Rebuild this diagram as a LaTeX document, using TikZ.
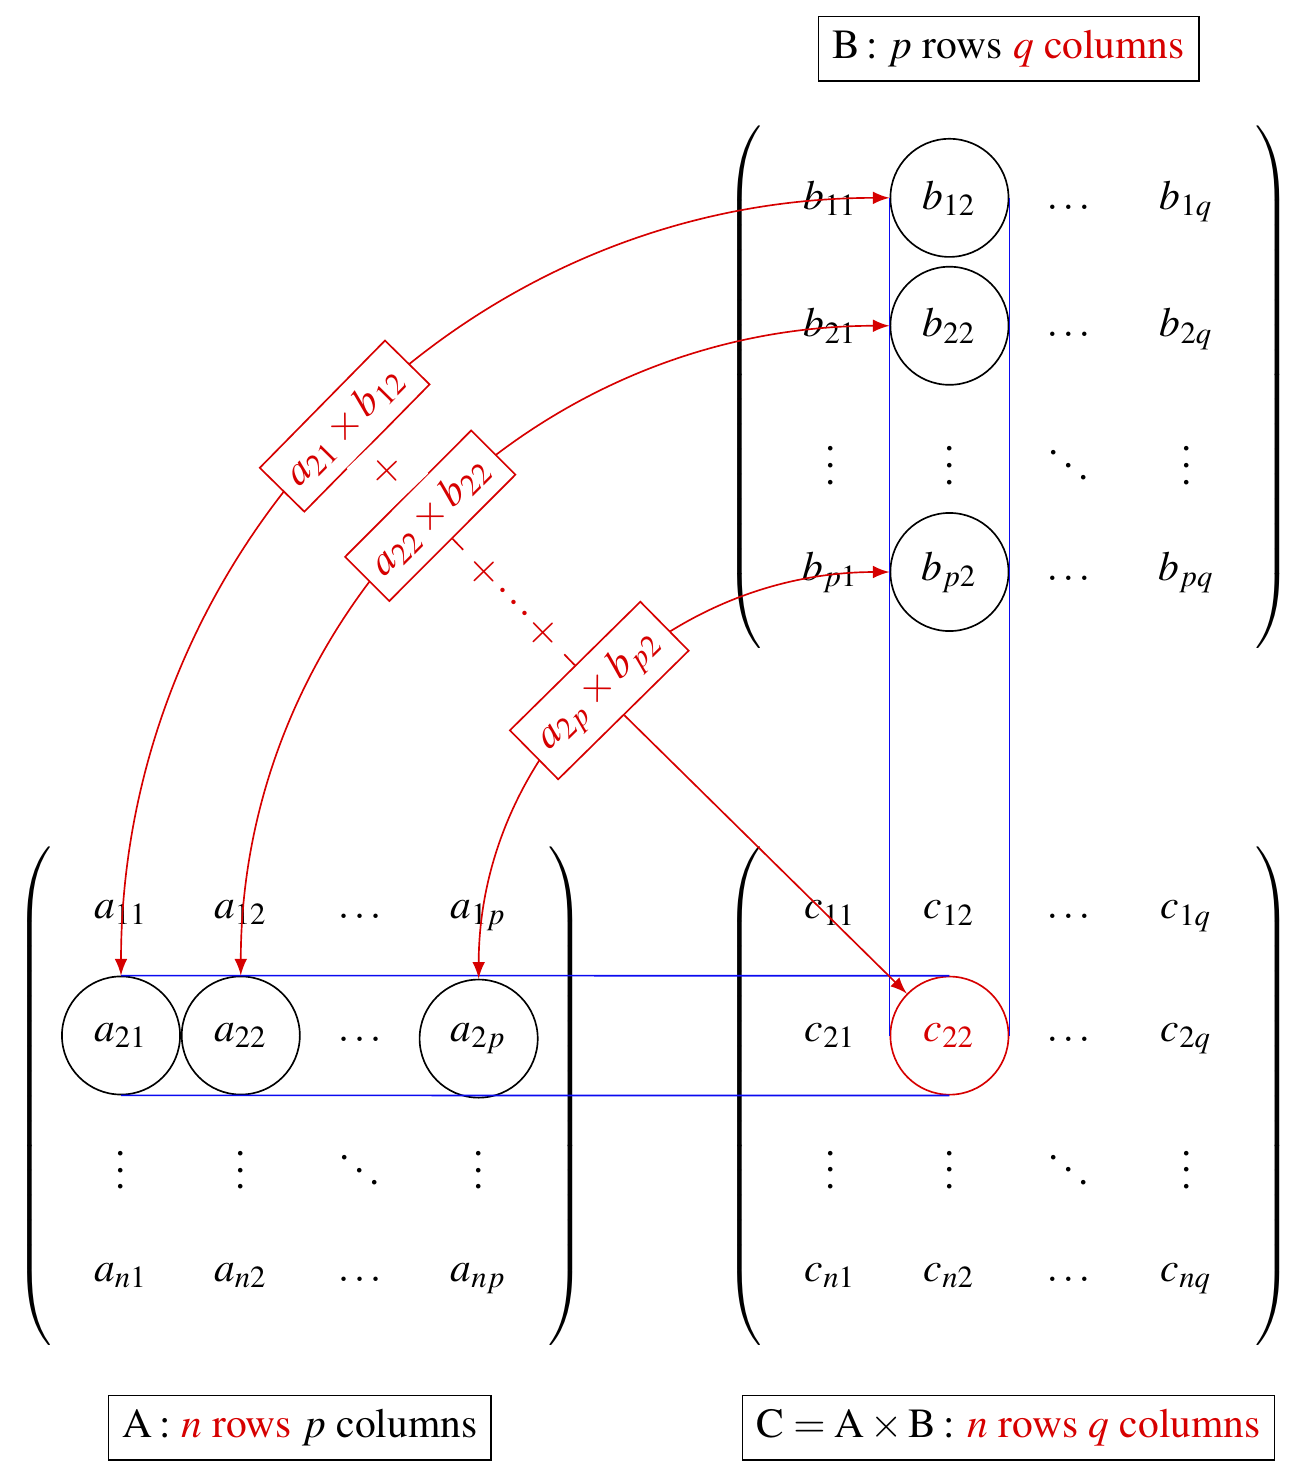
\documentclass[tikz,border=0pt]{standalone}
\usepackage[T1]{fontenc}
\usepackage{mathptmx}
\usetikzlibrary{matrix,calc,positioning}
\definecolor{myred}{RGB}{214,0,0}
\definecolor{myblue}{RGB}{10,10,240}
\begin{document}
\begin{tikzpicture}[>=latex,
  node style sp/.style={draw,circle,minimum size=1cm},
  node style ge/.style={circle,minimum size=1cm},
  arrow style mul/.style={draw,sloped,midway,fill=white},
  arrow style plus/.style={midway,sloped,fill=white},
  label box/.style={draw},
  every left delimiter/.style={xshift=0.85mm},
  every right delimiter/.style={xshift=-0.85mm}]
% matrix A
\matrix (A) [matrix of math nodes, nodes={node style ge},
             left delimiter=(, right delimiter=)] at (0,0)
{
  a_{11} & a_{12} & \ldots & a_{1p} \\
  |[node style sp]| {a_{21}} & |[node style sp]| {a_{22}} & \ldots & |[node style sp]| {a_{2p}} \\
  \vdots & \vdots & \ddots & \vdots \\
  a_{n1} & a_{n2} & \ldots & a_{np} \\
};
\node (labA) [label box, below=10pt] at (A.south)
  {A\,: \textcolor{myred}{$n$ rows} $p$ columns};
% matrix B
\matrix (B) [matrix of math nodes, nodes={node style ge},
             left delimiter=(, right delimiter=)] at (6,6)
{
  b_{11} & |[node style sp]| {b_{12}} & \ldots & b_{1q} \\
  b_{21} & |[node style sp]| {b_{22}} & \ldots & b_{2q} \\
  \vdots & \vdots & \ddots & \vdots \\
  b_{p1} & |[node style sp]| {b_{p2}} & \ldots & b_{pq} \\
};
\node (labB) [label box, above=10pt] at (B.north)
  {B\,: $p$ rows \textcolor{myred}{$q$ columns}};
% matrix C
\matrix (C) [matrix of math nodes, nodes={node style ge},
             left delimiter=(, right delimiter=)] at (6,0)
{
  c_{11} & c_{12} & \ldots & c_{1q} \\
  c_{21} & |[node style sp,myred]| {c_{22}} & \ldots & c_{2q} \\
  \vdots & \vdots & \ddots & \vdots \\
  c_{n1} & c_{n2} & \ldots & c_{nq} \\
};
\node (labC) [label box, below=10pt] at (C.south)
  {$\mathrm{C}=\mathrm{A}\times\mathrm{B}$\,: \textcolor{myred}{$n$ rows $q$ columns}};
% blue frames
\draw[myblue] (A-2-1.north) -- (C-2-2.north);
\draw[myblue] (A-2-1.south) -- (C-2-2.south);
\draw[myblue] (B-1-2.west) -- (C-2-2.west);
\draw[myblue] (B-1-2.east) -- (C-2-2.east);
% products
\draw[<->,myred] (A-2-1.north) to[out=90,in=180]
  node[arrow style mul] (x) {$a_{21}\times b_{12}$} (B-1-2.west);
\draw[<->,myred] (A-2-2.north) to[out=90,in=180]
  node[arrow style mul] (y) {$a_{22}\times b_{22}$} (B-2-2.west);
\draw[<->,myred] (A-2-4.north) to[out=90,in=180]
  node[arrow style mul] (z) {$a_{2p}\times b_{p2}$} (B-4-2.west);
\draw[myred] (x) -- node[arrow style plus] {$+$} (y);
\draw[myred] (y) -- node[arrow style plus] {$+\cdots+$} (z);
\draw[->,myred] (z) -- (C-2-2);
\pgfresetboundingbox
\path[use as bounding box] ($(A-2-1.center)+(-1.0245,-3.755)$) rectangle ($(A-2-1.center)+(10.042,8.767)$);
\end{tikzpicture}
\end{document}
